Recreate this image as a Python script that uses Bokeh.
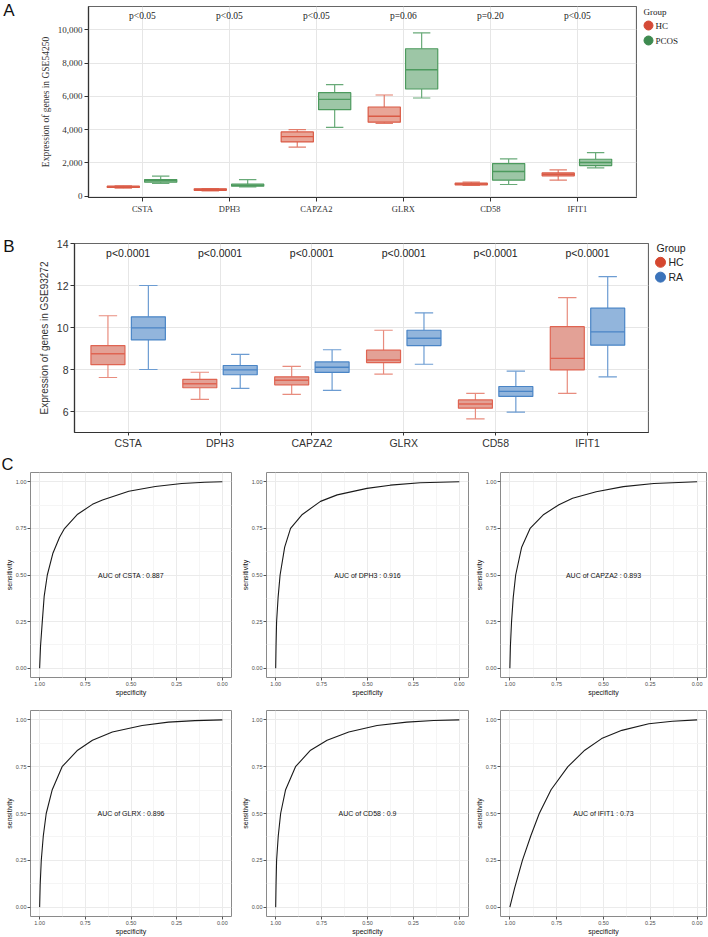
from bokeh.plotting import figure
from bokeh.layouts import column, row
from bokeh.models import Range1d, FixedTicker, NumeralTickFormatter, Label
from bokeh.embed import file_html
from bokeh.resources import INLINE
from bokeh.core.properties import value

genes = ["CSTA", "DPH3", "CAPZA2", "GLRX", "CD58", "IFIT1"]

# ---------- Panel A : GSE54250 (HC vs PCOS) ----------
a_groups = ["HC", "PCOS"]
a_hc_lo  = [480, 310, 2950, 4380, 640, 960]
a_hc_q1  = [520, 350, 3260, 4450, 680, 1220]
a_hc_med = [550, 400, 3580, 4800, 730, 1320]
a_hc_q3  = [600, 440, 3860, 5360, 780, 1400]
a_hc_hi  = [620, 460, 4000, 6080, 850, 1580]
a_pc_lo  = [760, 560, 4140, 5900, 700, 1700]
a_pc_q1  = [840, 600, 5200, 6440, 960, 1840]
a_pc_med = [940, 650, 5820, 7600, 1480, 2020]
a_pc_q3  = [1000, 720, 6220, 8860, 1960, 2220]
a_pc_hi  = [1200, 1000, 6700, 9820, 2240, 2620]
a_pvals  = ["p<0.05", "p<0.05", "p<0.05", "p=0.06", "p=0.20", "p<0.05"]
a_yticks = [0, 2000, 4000, 6000, 8000, 10000]

# ---------- Panel B : GSE93272 (HC vs RA) ----------
b_groups = ["HC", "RA"]
b_hc_lo  = [7.62, 6.58, 6.82, 7.78, 5.65, 6.86]
b_hc_q1  = [8.23, 7.13, 7.27, 8.33, 6.16, 7.98]
b_hc_med = [8.75, 7.32, 7.49, 8.45, 6.36, 8.53]
b_hc_q3  = [9.14, 7.53, 7.65, 8.92, 6.55, 10.04]
b_hc_hi  = [10.56, 7.87, 8.15, 9.87, 6.86, 11.42]
b_ra_lo  = [8.00, 7.10, 7.01, 8.25, 5.97, 7.65]
b_ra_q1  = [9.41, 7.75, 7.86, 9.14, 6.72, 9.16]
b_ra_med = [9.98, 7.98, 8.11, 9.49, 6.96, 9.79]
b_ra_q3  = [10.51, 8.19, 8.36, 9.87, 7.19, 10.92]
b_ra_hi  = [12.00, 8.72, 8.94, 10.70, 7.92, 12.42]
b_pvals  = ["p<0.0001"] * 6
b_yticks = [6, 8, 10, 12, 14]

# ---------- Panel C : ROC curves ----------
roc_auc = ["0.887", "0.916", "0.893", "0.896", "0.9", "0.73"]
spec_csta = [1.0, 0.995, 0.9855, 0.975, 0.958, 0.928, 0.891, 0.864, 0.792, 0.711, 0.656, 0.512, 0.367, 0.222, 0.096, 0.0]
sens_csta = [0.0, 0.12, 0.25, 0.387, 0.5, 0.615, 0.703, 0.749, 0.826, 0.879, 0.902, 0.949, 0.975, 0.991, 0.998, 1.0]
spec_dph3 = [1.0, 0.998, 0.995, 0.987, 0.976, 0.951, 0.919, 0.855, 0.756, 0.665, 0.503, 0.376, 0.213, 0.0]
sens_dph3 = [0.0, 0.12, 0.25, 0.377, 0.5, 0.65, 0.75, 0.825, 0.895, 0.930, 0.965, 0.982, 0.995, 1.0]
spec_capza2 = [1.0, 0.997, 0.991, 0.982, 0.969, 0.937, 0.892, 0.819, 0.738, 0.665, 0.539, 0.394, 0.231, 0.0]
sens_capza2 = [0.0, 0.12, 0.25, 0.38, 0.5, 0.649, 0.75, 0.825, 0.877, 0.912, 0.947, 0.974, 0.991, 1.0]
spec_glrx = [1.0, 0.997, 0.991, 0.98, 0.964, 0.931, 0.877, 0.792, 0.711, 0.602, 0.439, 0.295, 0.150, 0.0]
sens_glrx = [0.0, 0.12, 0.25, 0.38, 0.5, 0.627, 0.75, 0.838, 0.891, 0.935, 0.970, 0.988, 0.996, 1.0]
spec_cd58 = [1.0, 0.998, 0.995, 0.986, 0.973, 0.946, 0.892, 0.810, 0.720, 0.602, 0.448, 0.286, 0.14, 0.0]
sens_cd58 = [0.0, 0.12, 0.25, 0.38, 0.5, 0.627, 0.75, 0.838, 0.891, 0.935, 0.970, 0.988, 0.997, 1.0]
spec_ifit1 = [1.0, 0.975, 0.933, 0.888, 0.843, 0.780, 0.690, 0.600, 0.510, 0.402, 0.258, 0.132, 0.0]
sens_ifit1 = [0.0, 0.1, 0.25, 0.381, 0.5, 0.627, 0.75, 0.838, 0.9, 0.944, 0.979, 0.993, 1.0]
roc_ticks = [0, 0.25, 0.5, 0.75, 1.0]

SERIF = "Liberation Serif"
SANS = "Liberation Sans"
xs = list(range(1, len(genes) + 1))
labels_map = {i: g for i, g in zip(xs, genes)}


def blank_fig(w, h, top=0, bottom=0, left=0):
    # y range expressed in canvas pixels from the top of this figure
    p = figure(width=w, height=h, x_range=Range1d(0, w - left), y_range=Range1d(h - bottom, top),
               output_backend="svg", toolbar_location=None,
               min_border_left=left, min_border_right=0, min_border_top=top,
               min_border_bottom=bottom)
    p.xaxis.visible = False
    p.yaxis.visible = False
    p.grid.visible = False
    p.outline_line_color = None
    return p


def draw_boxes(p, lo, q1, med, q3, hi, off, line_c, fill_c, whisk_c, hw=0.185, cap=0.1):
    cx = [x + off for x in xs]
    p.segment(x0=cx, y0=q3, x1=cx, y1=hi, line_color=whisk_c, line_width=1.2)
    p.segment(x0=cx, y0=lo, x1=cx, y1=q1, line_color=whisk_c, line_width=1.2)
    p.segment(x0=[c - cap for c in cx], y0=hi, x1=[c + cap for c in cx], y1=hi,
              line_color=whisk_c, line_width=1.2)
    p.segment(x0=[c - cap for c in cx], y0=lo, x1=[c + cap for c in cx], y1=lo,
              line_color=whisk_c, line_width=1.2)
    p.quad(left=[c - hw for c in cx], right=[c + hw for c in cx], bottom=q1, top=q3,
           fill_color=fill_c, line_color=line_c, line_width=1.2)
    p.segment(x0=[c - hw for c in cx], y0=med, x1=[c + hw for c in cx], y1=med,
              line_color=line_c, line_width=1.4)


def style_box_fig(p, font, tick_size, label_size, ylabel):
    p.outline_line_color = "#666666"
    p.outline_line_width = 1.2
    p.xgrid.grid_line_color = "#e6e6e6"
    p.ygrid.grid_line_color = "#e6e6e6"
    for ax in (p.xaxis, p.yaxis):
        ax.axis_line_color = "#333333"
        ax.axis_line_width = 1.2
        ax.major_tick_line_color = "#333333"
        ax.major_tick_out = 4
        ax.major_tick_in = 0
        ax.minor_tick_line_color = None
        ax.major_label_text_font = font
        ax.major_label_text_font_size = tick_size
        ax.major_label_text_color = "#333333"
        ax.major_label_standoff = 2
    p.xaxis.ticker = FixedTicker(ticks=xs)
    p.xaxis.major_label_overrides = labels_map
    p.yaxis.axis_label = ylabel
    p.yaxis.axis_label_text_font = font
    p.yaxis.axis_label_text_font_size = label_size
    p.yaxis.axis_label_text_font_style = "normal"
    p.yaxis.axis_label_text_color = "#333333"
    p.yaxis.axis_label_standoff = 4


def legend_fig(w, h, top, bottom, names, colors, font, fsize, tx, ty, dx, dy0, ddy, lx, dsize):
    p = blank_fig(w, h, top, bottom)
    p.text(x=[tx], y=[ty], text=["Group"], text_font=value(font), text_font_size=fsize,
           text_baseline="middle", text_align="left", text_color="#222222")
    ys = [dy0 + k * ddy for k in range(len(names))]
    p.scatter(x=[dx] * len(names), y=ys, size=dsize, fill_color=colors, line_color=colors)
    p.text(x=[lx] * len(names), y=ys, text=names, text_font=value(font), text_font_size=fsize,
           text_baseline="middle", text_align="left", text_color="#222222")
    return p


def letter_fig(w, h, top, bottom, txt, yc):
    # panel letter drawn as the single tick label of an otherwise bare left axis
    p = blank_fig(w, h, top, bottom, left=13)
    ax = p.yaxis[0]
    ax.visible = True
    ax.ticker = FixedTicker(ticks=[yc])
    ax.major_label_overrides = {yc: txt}
    ax.axis_line_color = None
    ax.major_tick_line_color = None
    ax.minor_tick_line_color = None
    ax.major_tick_out = 0
    ax.major_tick_in = 0
    ax.major_label_standoff = 0
    ax.major_label_text_font = SANS
    ax.major_label_text_font_size = "17px"
    ax.major_label_text_color = "#111111"
    return p


# ---- Panel A ----
A_T, A_B = 6, 28
pA = figure(width=621, height=225, x_range=Range1d(0.38, 6.68), y_range=Range1d(-80, 11400),
            output_backend="svg", toolbar_location=None,
            min_border_left=72, min_border_right=1, min_border_top=A_T, min_border_bottom=A_B)
style_box_fig(pA, SERIF, "9px", "9.5px", "Expression of genes in GSE54250")
pA.yaxis.ticker = FixedTicker(ticks=a_yticks)
pA.yaxis.formatter = NumeralTickFormatter(format="0,0")
pA.xaxis.major_label_text_font_size = "8.5px"
draw_boxes(pA, a_hc_lo, a_hc_q1, a_hc_med, a_hc_q3, a_hc_hi, -0.22,
           "#DA5A45", "#E9A597", "#E27C6B")
draw_boxes(pA, a_pc_lo, a_pc_q1, a_pc_med, a_pc_q3, a_pc_hi, 0.21,
           "#4D9A5E", "#9DC6A6", "#68AA78")
pA.text(x=xs, y=[10800] * len(xs), text=a_pvals, text_align="center", text_baseline="middle",
        text_font=value(SERIF), text_font_size="9.5px", text_color="#222222")
labA = letter_fig(16, 225, A_T, A_B, "A", 10)
legA = legend_fig(71, 225, A_T, A_B, a_groups, ["#D44A37", "#3E8A50"], SERIF, "9px",
                  6, 11, 11, 25, 15, 18, 9)
rowA = row(labA, pA, legA)

# ---- Panel B ----
B_T, B_B = 18, 17
pB = figure(width=633, height=226, x_range=Range1d(0.416, 6.664), y_range=Range1d(5, 14),
            output_backend="svg", toolbar_location=None,
            min_border_left=58, min_border_right=1, min_border_top=B_T, min_border_bottom=B_B)
style_box_fig(pB, SANS, "10.5px", "10px", "Expression of genes in GSE93272")
pB.xaxis.major_tick_out = 3
pB.xaxis.major_label_standoff = 1
pB.yaxis.ticker = FixedTicker(ticks=b_yticks)
draw_boxes(pB, b_hc_lo, b_hc_q1, b_hc_med, b_hc_q3, b_hc_hi, -0.22,
           "#DF6452", "#E3A196", "#E88C7E")
draw_boxes(pB, b_ra_lo, b_ra_q1, b_ra_med, b_ra_q3, b_ra_hi, 0.22,
           "#4A85C6", "#92B5DC", "#6C9CD2")
pB.text(x=xs, y=[13.55] * len(xs), text=b_pvals, text_align="center", text_baseline="middle",
        text_font=value(SANS), text_font_size="10.5px", text_color="#222222")
labB = letter_fig(16, 226, B_T, B_B, "B", 21)
legB = legend_fig(59, 226, B_T, B_B, b_groups, ["#D5472F", "#3B73BA"], SANS, "10.5px",
                  7, 23, 11, 37, 15, 19, 10)
rowB = row(labB, pB, legB)

# ---- Panel C ----
roc_spec = [spec_csta, spec_dph3, spec_capza2, spec_glrx, spec_cd58, spec_ifit1]
roc_sens = [sens_csta, sens_dph3, sens_capza2, sens_glrx, sens_cd58, sens_ifit1]
geom = [  # width, height, left, right, top, bottom
    (236, 247, 30, 5, 21, 20), (234, 247, 30, 2, 21, 20), (238, 247, 30, 2, 21, 20),
    (236, 239, 30, 5, 12, 19), (234, 239, 30, 2, 12, 19), (238, 239, 30, 2, 12, 19),
]
roc_figs = []
for i, g in enumerate(genes):
    w, h, l, r, t, b = geom[i]
    p = figure(width=w, height=h, x_range=Range1d(1.05, -0.05), y_range=Range1d(-0.05, 1.05),
               output_backend="svg", toolbar_location=None,
               min_border_left=l, min_border_right=r, min_border_top=t, min_border_bottom=b)
    p.outline_line_color = "#8a8a8a"
    p.outline_line_width = 1
    for ax in (p.xaxis, p.yaxis):
        ax.ticker = FixedTicker(ticks=roc_ticks, minor_ticks=[0.125, 0.375, 0.625, 0.875])
        ax.formatter = NumeralTickFormatter(format="0.00")
        ax.axis_line_color = None
        ax.major_tick_line_color = "#555555"
        ax.major_tick_out = 3
        ax.major_tick_in = 0
        ax.minor_tick_line_color = None
        ax.major_label_text_font = SANS
        ax.major_label_text_font_size = "5.5px"
        ax.major_label_text_color = "#4d4d4d"
        ax.major_label_standoff = 0
        ax.axis_label_text_font = SANS
        ax.axis_label_text_font_size = "7px"
        ax.axis_label_text_font_style = "normal"
        ax.axis_label_text_color = "#111111"
        ax.axis_label_standoff = 0
    p.xaxis.axis_label = "specificity"
    p.yaxis.axis_label = "sensitivity"
    for grid in (p.xgrid, p.ygrid):
        grid.grid_line_color = "#ebebeb"
        grid.minor_grid_line_color = "#f5f5f5"
    p.line(roc_spec[i], roc_sens[i], line_color="#1a1a1a", line_width=1.1)
    p.add_layout(Label(x=0.5, y=0.5, text="AUC of %s : %s" % (g, roc_auc[i]),
                       text_font=SANS, text_font_size="7px", text_align="center",
                       text_baseline="middle", text_color="#111111"))
    roc_figs.append(p)
# panel letter "C" as the title of the first ROC plot, pulled into the left margin
tC = roc_figs[0].title
tC.text = "C"
tC.text_font = SANS
tC.text_font_size = "16.5px"
tC.text_font_style = "normal"
tC.text_color = "#111111"
tC.align = "left"
tC.standoff = 0
tC.offset = -29

layout = column(rowA, rowB, row(*roc_figs[:3]), row(*roc_figs[3:]))
open("out.html", "w").write(file_html(layout, INLINE))
